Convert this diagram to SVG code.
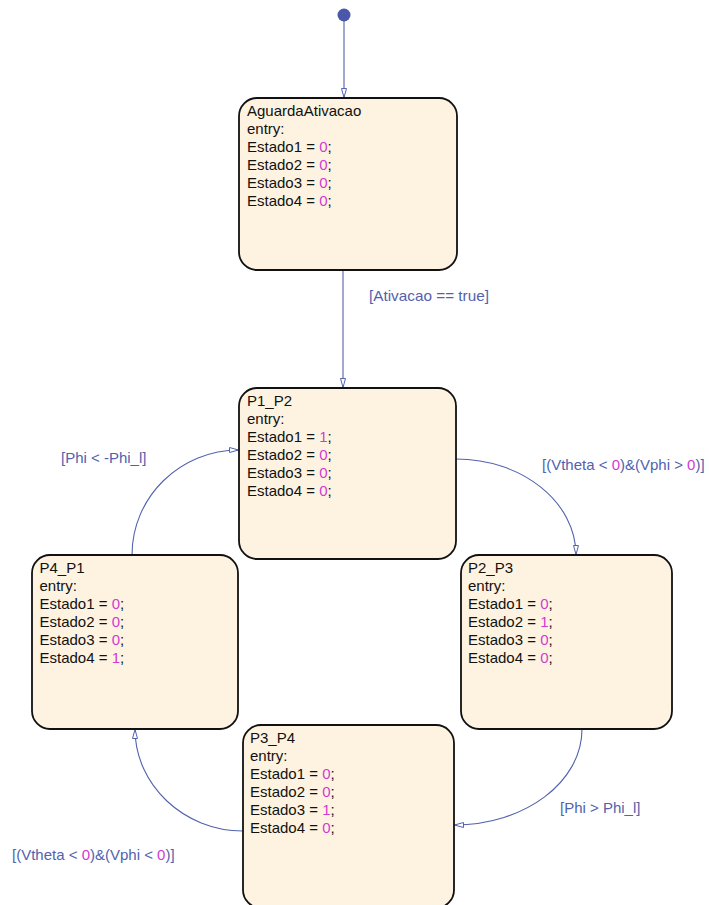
<svg xmlns="http://www.w3.org/2000/svg" width="709" height="905" viewBox="0 0 709 905">
  <style>
    .state rect { fill: #fef3e1; stroke: #111; stroke-width: 1.8; }
    .state text { font-family: "Liberation Sans", Arial, sans-serif; font-size: 15px; fill: #111; }
    .num { fill: #d23ad2; }
    .conn path { fill: none; stroke: #5262ad; stroke-width: 1.1; marker-end: url(#arrow); }
    .lbl { font-family: "Liberation Sans", Arial, sans-serif; font-size: 15px; fill: #5262ad; }
  </style>
  <defs>
    <marker id="arrow" viewBox="0 0 10 6" refX="10" refY="3" markerWidth="10" markerHeight="6" markerUnits="userSpaceOnUse" orient="auto">
      <path d="M0.5,0.5 L9.5,3 L0.5,5.5 Z" fill="#ffffff" stroke="#5262ad" stroke-width="1"/>
    </marker>
  </defs>
  <rect width="709" height="905" fill="#ffffff"/>

  <!-- default transition source -->
  <circle id="initial" cx="344" cy="15" r="6.5" fill="#4b57a8"/>

  <g id="connectors" class="conn">
    <path d="M344,21 L344,98"/>
    <path d="M343,270 L343,388"/>
    <path d="M456,459 C522,459 576,502 576,555"/>
    <path d="M582,729 C582,782 525,825 454,825"/>
    <path d="M243,831 C184,831 135,785 135,729"/>
    <path d="M132,555 C132,497 180,450 239,450"/>
  </g>

  <g id="labels">
    <text class="lbl" x="369" y="301" textLength="120" lengthAdjust="spacingAndGlyphs">[Ativacao == true]</text>
    <text class="lbl" x="542" y="470">[(Vtheta &lt; <tspan class="num">0</tspan>)&amp;(Vphi &gt; <tspan class="num">0</tspan>)]</text>
    <text class="lbl" x="560" y="813">[Phi &gt; Phi_l]</text>
    <text class="lbl" x="12" y="860">[(Vtheta &lt; <tspan class="num">0</tspan>)&amp;(Vphi &lt; <tspan class="num">0</tspan>)]</text>
    <text class="lbl" x="61" y="463">[Phi &lt; -Phi_l]</text>
  </g>

  <g id="AguardaAtivacao" class="state">
    <rect x="239" y="98" width="218" height="172" rx="18"/>
    <text x="247" y="115.5">AguardaAtivacao</text>
    <text x="247" y="133.5">entry:</text>
    <text x="247" y="151.5">Estado1 = <tspan class="num">0</tspan>;</text>
    <text x="247" y="169.5">Estado2 = <tspan class="num">0</tspan>;</text>
    <text x="247" y="187.5">Estado3 = <tspan class="num">0</tspan>;</text>
    <text x="247" y="205.5">Estado4 = <tspan class="num">0</tspan>;</text>
  </g>

  <g id="P1_P2" class="state">
    <rect x="239" y="388" width="217" height="171" rx="18"/>
    <text x="247" y="405.5">P1_P2</text>
    <text x="247" y="423.5">entry:</text>
    <text x="247" y="441.5">Estado1 = <tspan class="num">1</tspan>;</text>
    <text x="247" y="459.5">Estado2 = <tspan class="num">0</tspan>;</text>
    <text x="247" y="477.5">Estado3 = <tspan class="num">0</tspan>;</text>
    <text x="247" y="495.5">Estado4 = <tspan class="num">0</tspan>;</text>
  </g>

  <g id="P4_P1" class="state">
    <rect x="32" y="555" width="206" height="174" rx="18"/>
    <text x="39.5" y="572.5">P4_P1</text>
    <text x="39.5" y="590.5">entry:</text>
    <text x="39.5" y="608.5">Estado1 = <tspan class="num">0</tspan>;</text>
    <text x="39.5" y="626.5">Estado2 = <tspan class="num">0</tspan>;</text>
    <text x="39.5" y="644.5">Estado3 = <tspan class="num">0</tspan>;</text>
    <text x="39.5" y="662.5">Estado4 = <tspan class="num">1</tspan>;</text>
  </g>

  <g id="P2_P3" class="state">
    <rect x="461" y="555" width="211" height="174" rx="18"/>
    <text x="468" y="572.5">P2_P3</text>
    <text x="468" y="590.5">entry:</text>
    <text x="468" y="608.5">Estado1 = <tspan class="num">0</tspan>;</text>
    <text x="468" y="626.5">Estado2 = <tspan class="num">1</tspan>;</text>
    <text x="468" y="644.5">Estado3 = <tspan class="num">0</tspan>;</text>
    <text x="468" y="662.5">Estado4 = <tspan class="num">0</tspan>;</text>
  </g>

  <g id="P3_P4" class="state">
    <rect x="243" y="725" width="211" height="183" rx="18"/>
    <text x="250" y="742.5">P3_P4</text>
    <text x="250" y="760.5">entry:</text>
    <text x="250" y="778.5">Estado1 = <tspan class="num">0</tspan>;</text>
    <text x="250" y="796.5">Estado2 = <tspan class="num">0</tspan>;</text>
    <text x="250" y="814.5">Estado3 = <tspan class="num">1</tspan>;</text>
    <text x="250" y="832.5">Estado4 = <tspan class="num">0</tspan>;</text>
  </g>
</svg>
